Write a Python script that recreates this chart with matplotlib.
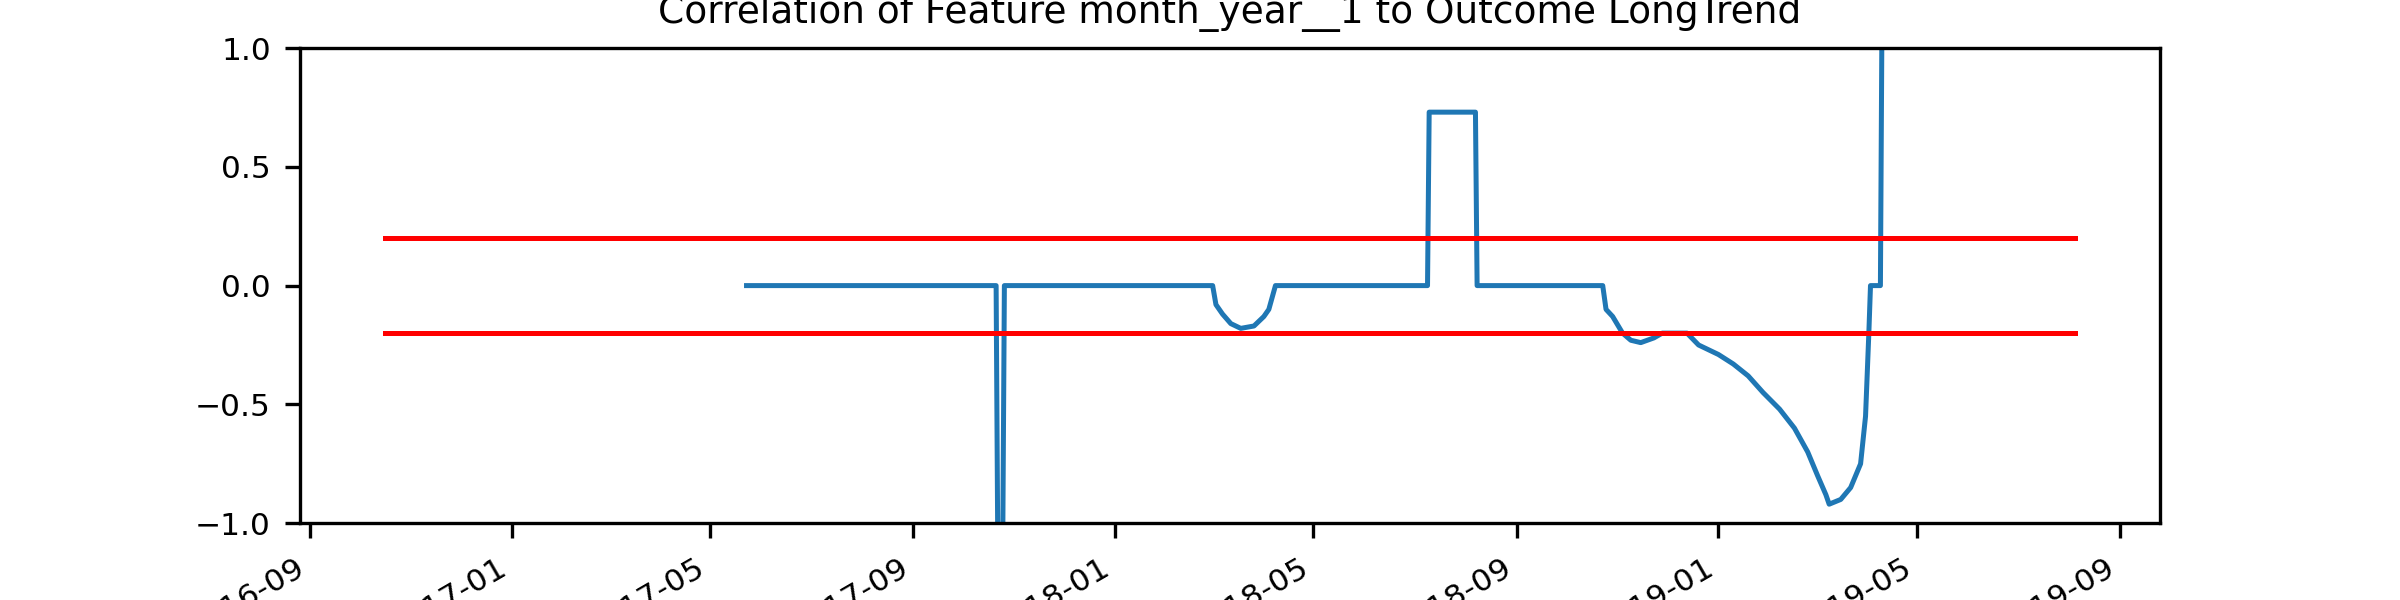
import matplotlib
matplotlib.use("Agg")
import matplotlib.pyplot as plt
import matplotlib.dates as mdates
import pandas as pd

dates = ["2017-05-23","2017-10-21","2017-10-22","2017-10-25","2017-10-26",
         "2018-03-01","2018-03-03","2018-03-07","2018-03-12","2018-03-18","2018-03-26","2018-04-01","2018-04-04","2018-04-08",
         "2018-07-09","2018-07-10","2018-08-07","2018-08-08",
         "2018-10-23","2018-10-25","2018-10-29","2018-11-04","2018-11-09","2018-11-15","2018-11-23","2018-11-28",
         "2018-12-13","2018-12-20","2019-01-01","2019-01-10","2019-01-19","2019-01-28","2019-02-07","2019-02-16",
         "2019-02-24","2019-03-02","2019-03-07","2019-03-09","2019-03-16","2019-03-22","2019-03-28","2019-03-31",
         "2019-04-02","2019-04-03","2019-04-09","2019-04-10"]
values = [0,0,-1.1,-1.1,0,
          0,-0.08,-0.12,-0.16,-0.18,-0.17,-0.13,-0.10,0,
          0,0.73,0.73,0,
          0,-0.1,-0.13,-0.2,-0.23,-0.24,-0.22,-0.2,
          -0.2,-0.25,-0.29,-0.33,-0.38,-0.45,-0.52,-0.6,
          -0.7,-0.8,-0.88,-0.92,-0.9,-0.85,-0.75,-0.55,
          -0.2,0,0,1.2]
threshold_dates = ["2016-10-16","2019-08-05"]
upper = 0.2
lower = -0.2

d = pd.to_datetime(dates)
td = pd.to_datetime(threshold_dates)

plt.rcParams['font.size'] = 7.5
fig, ax = plt.subplots(figsize=(8, 2), dpi=300)
fig.subplots_adjust(left=0.125, right=0.9, top=0.92, bottom=0.128)
ax.plot(d, values, color="#1f77b4", lw=1.2)
ax.plot(td, [upper, upper], color="red", lw=1.2)
ax.plot(td, [lower, lower], color="red", lw=1.2)
ax.set_ylim(-1, 1)
ax.set_title("Correlation of Feature month_year__1 to Outcome LongTrend", fontsize=9)
ax.xaxis.set_major_locator(mdates.MonthLocator(bymonth=[1, 5, 9]))
ax.xaxis.set_major_formatter(mdates.DateFormatter("%Y-%m"))
plt.setp(ax.get_xticklabels(), rotation=30, ha="right")
fig.savefig("out.png")
